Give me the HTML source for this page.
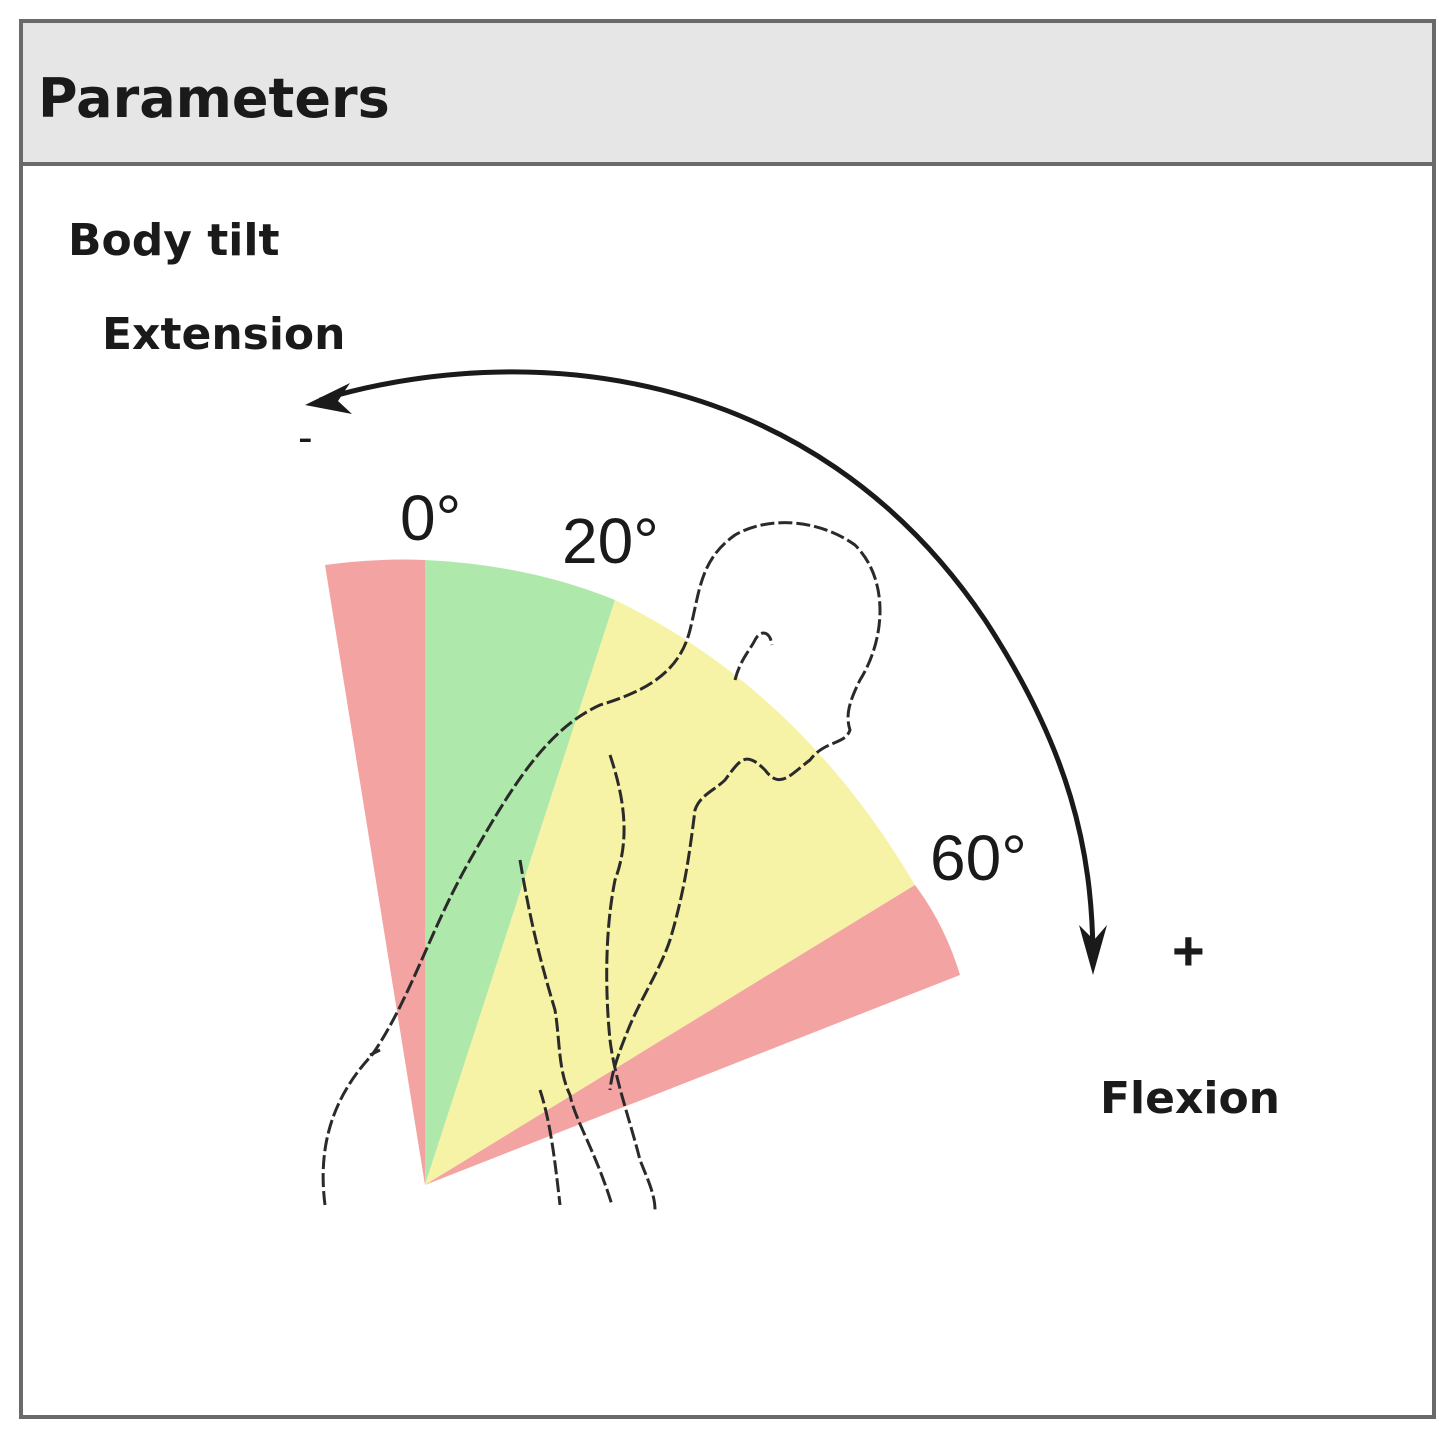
<!DOCTYPE html>
<html><head><meta charset="utf-8"><style>
body{margin:0;background:#fff;width:1455px;height:1443px;overflow:hidden}
svg{display:block}
</style></head><body>
<svg width="1455" height="1443" viewBox="0 0 1455 1443" xmlns="http://www.w3.org/2000/svg">
<rect x="0" y="0" width="1455" height="1443" fill="#fff"/>
<rect x="21" y="21" width="1413" height="1396" fill="#fff" stroke="#6a6a6a" stroke-width="4"/>
<rect x="21" y="21" width="1413" height="143" fill="#e6e6e6" stroke="#6a6a6a" stroke-width="4"/>
<text x="38" y="117" font-family="DejaVu Sans, sans-serif" font-weight="bold" font-size="54" fill="#1a1a1a">Parameters</text>
<text x="68" y="255" font-family="DejaVu Sans, sans-serif" font-weight="bold" font-size="44" fill="#1a1a1a">Body tilt</text>
<text x="102" y="349" font-family="DejaVu Sans, sans-serif" font-weight="bold" font-size="44" fill="#1a1a1a">Extension</text>
<text x="1100" y="1113" font-family="DejaVu Sans, sans-serif" font-weight="bold" font-size="44" fill="#1a1a1a">Flexion</text>
<!-- sectors -->
<path d="M425 1185 L325 565 Q375 558 425 560 Z" fill="#f4a3a3"/>
<path d="M425 1185 L425 560 Q530 565 615 600 Z" fill="#aee8aa"/>
<path d="M425 1185 L615 600 Q800 690 915 885 Z" fill="#f6f2a6"/>
<path d="M425 1185 L915 885 Q945 925 960 975 Z" fill="#f4a3a3"/>
<!-- degree labels -->
<text x="400" y="540" font-family="Liberation Sans, sans-serif" font-size="64" fill="#1a1a1a">0°</text>
<text x="562" y="563" font-family="Liberation Sans, sans-serif" font-size="64" fill="#1a1a1a">20°</text>
<text x="930" y="880" font-family="Liberation Sans, sans-serif" font-size="64" fill="#1a1a1a">60°</text>
<text x="298" y="452" font-family="Liberation Sans, sans-serif" font-size="44" fill="#1a1a1a">-</text>
<text x="1172" y="970" font-family="Liberation Sans, sans-serif" font-size="56" font-weight="bold" fill="#1a1a1a">+</text>
<!-- arrow arc -->
<path d="M320 400 C 520 340, 810 360, 985 620 C 1070 750, 1092 850, 1093 955" fill="none" stroke="#1a1a1a" stroke-width="5"/>
<path d="M305 405 L350 383 L338 401 L352 414 Z" fill="#1a1a1a"/>
<path d="M1093 975 L1079 925 L1094 940 L1107 925 Z" fill="#1a1a1a"/>
<!-- figure sketch -->
<g fill="none" stroke="#2a2a2a" stroke-width="3" stroke-dasharray="14 4">
<path d="M325 1205 C 318 1150, 330 1100, 372 1055 C 410 1000, 430 930, 470 860 C 510 790, 545 730, 600 705 C 650 690, 680 670, 690 630 C 700 590, 700 560, 735 535 C 770 515, 820 520, 855 545 C 890 580, 885 640, 860 680 C 850 700, 845 715, 850 730 C 845 745, 825 740, 810 760 C 790 775, 780 790, 765 770 C 745 750, 740 760, 725 780 C 715 790, 700 795, 695 810 C 690 850, 685 890, 670 940 C 660 970, 640 1000, 628 1030 C 620 1050, 612 1070, 610 1090"/>
<path d="M735 680 C 740 660, 750 650, 755 640 C 760 630, 770 630, 772 645"/>
<path d="M610 755 C 625 800, 630 840, 615 880 C 605 930, 605 990, 610 1040 C 615 1080, 630 1120, 640 1160 C 648 1180, 655 1195, 655 1210"/>
<path d="M520 860 C 530 920, 540 960, 555 1010 C 560 1040, 558 1070, 570 1095 C 575 1120, 595 1150, 612 1205"/>
<path d="M540 1090 C 550 1120, 555 1160, 560 1205"/>
<path d="M370 1055 L380 1050"/>
</g>
</svg>
</body></html>
